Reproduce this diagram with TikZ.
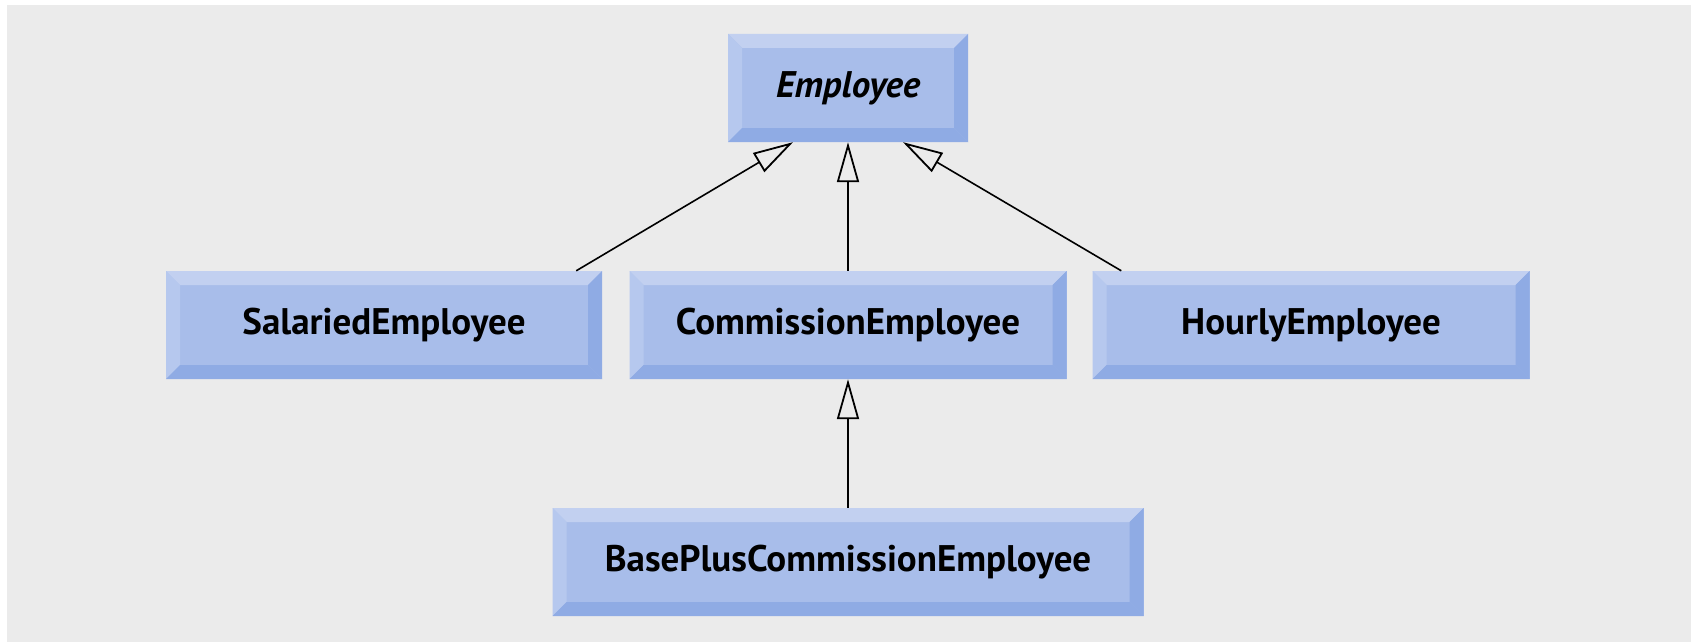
\documentclass[tikz,border=0pt]{standalone}
\usepackage{fontspec}
\setmainfont{PT Sans}
\usetikzlibrary{arrows.meta}
\definecolor{bvface}{HTML}{A8BDEA}
\definecolor{bvtop}{HTML}{C2D0F0}
\definecolor{bvleft}{HTML}{B6C8EE}
\definecolor{bvdark}{HTML}{8FABE4}
\definecolor{panelgray}{HTML}{EBEBEB}
\newlength\bevw
\setlength\bevw{14pt}
\newcommand\bevelfill{%
  \path (path picture bounding box.north west) coordinate (bNW)
        (path picture bounding box.north east) coordinate (bNE)
        (path picture bounding box.south west) coordinate (bSW)
        (path picture bounding box.south east) coordinate (bSE);
  \fill[bvtop] (bNW) -- (bNE) -- ([xshift=-\bevw,yshift=-\bevw]bNE) -- ([xshift=\bevw,yshift=-\bevw]bNW) -- cycle;
  \fill[bvleft] (bNW) -- ([xshift=\bevw,yshift=-\bevw]bNW) -- ([xshift=\bevw,yshift=\bevw]bSW) -- (bSW) -- cycle;
  \fill[bvdark] (bSW) -- (bSE) -- ([xshift=-\bevw,yshift=\bevw]bSE) -- ([xshift=\bevw,yshift=\bevw]bSW) -- cycle;
  \fill[bvdark] (bNE) -- (bSE) -- ([xshift=-\bevw,yshift=\bevw]bSE) -- ([xshift=-\bevw,yshift=-\bevw]bNE) -- cycle;
}
\tikzset{
  classbox/.style={rectangle, fill=bvface, inner sep=0pt, minimum height=108pt,
    font=\fontsize{37}{44}\selectfont\bfseries, text=black, path picture={\bevelfill}},
  inherit/.style={draw=black, line width=1.6pt,
    -{Triangle[open, length=40pt, width=22pt, line width=1.8pt]}}
}
\begin{document}
\begin{tikzpicture}[x=1pt, y=-1pt]
\useasboundingbox (0,0) rectangle (1691,642);
\fill[white] (0,0) rectangle (1691,642);
\fill[panelgray] (7,5) rectangle (1691,642);

\node[classbox, minimum width=240pt] (emp) at (848,88) {\itshape Employee};
\node[classbox, minimum width=436pt] (sal) at (384,325) {SalariedEmployee};
\node[classbox, minimum width=437pt] (com) at (848,325) {CommissionEmployee};
\node[classbox, minimum width=437pt] (hou) at (1311,325) {HourlyEmployee};
\node[classbox, minimum width=591pt] (bpc) at (848,562) {BasePlusCommissionEmployee};

\draw[inherit] ([xshift=-26pt]sal.north east) -- ([xshift=-55pt]emp.south);
\draw[inherit] (com.north) -- (emp.south);
\draw[inherit] ([xshift=29pt]hou.north west) -- ([xshift=55pt]emp.south);
\draw[inherit] (bpc.north) -- (com.south);
\end{tikzpicture}
\end{document}
